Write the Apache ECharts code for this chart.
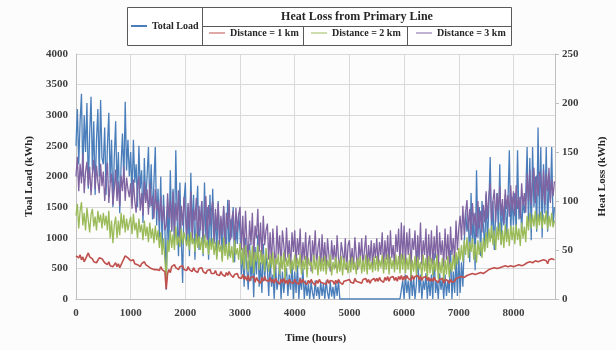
<!DOCTYPE html>
<html>
<head>
<meta charset="utf-8">
<script src="https://cdn.jsdelivr.net/npm/echarts@6/dist/echarts.min.js"></script>
<style>
html, body { margin: 0; padding: 0; background: #fcfcfc; }
#chart { width: 616px; height: 350px; }
</style>
</head>
<body>
<div id="chart"></div>
<script>
// one value every STEP hours (one row = 500 hours)
var STEP = 25;
var xTicks = [0, 1000, 2000, 3000, 4000, 5000, 6000, 7000, 8000];

var totalLoad = [
    2500, 3100, 2200, 2900, 3350, 2000, 3000, 2400, 3200, 1800, 2700, 3300, 2100, 2900, 1700, 2600, 3100, 2000, 3250, 2300,
    2200, 2800, 1700, 2500, 3040, 1900, 2600, 1500, 2300, 2900, 1800, 2400, 1400, 2200, 2700, 1900, 3220, 2100, 2600, 2000,
    2400, 1700, 2600, 1900, 2200, 1500, 2500, 1800, 2100, 1240, 2300, 1600, 2000, 2480, 1500, 2200, 1300, 1900, 2480, 1200,
    1800, 1000, 2000, 850, 1700, 1200, 150, 1500, 900, 2100, 1100, 1800, 960, 2430, 1300, 700, 1900, 1000, 260, 1600,
    1900, 900, 1500, 700, 2060, 1100, 1700, 640, 1400, 1850, 800, 1300, 1600, 700, 1900, 1000, 1500, 640, 1700, 900,
    1800, 900, 1400, 700, 1600, 1000, 1300, 640, 1500, 1100, 800, 1620, 700, 1300, 1000, 1500, 600, 1200, 900, 1400,
    1080, 400, 800, 200, 1000, 500, 150, 900, 300, 700, 30, 850, 400, 1050, 200, 600, 100, 900, 300, 700,
    500, 50, 700, 200, 400, 0, 550, 150, 300, 600, 0, 450, 100, 350, 500, 50, 400, 150, 600, 0,
    450, 100, 550, 0, 350, 150, 500, 0, 300, 50, 250, 0, 280, 100, 0, 300, 50, 200, 0, 280,
    50, 250, 0, 300, 100, 0, 280, 40, 200, 0, 260, 50, 300, 0, 0, 0, 0, 0, 0, 0,
    0, 0, 0, 0, 0, 0, 0, 0, 0, 0, 0, 0, 0, 0, 0, 0, 0, 0, 0, 0,
    0, 0, 0, 0, 0, 0, 0, 0, 0, 0, 0, 0, 0, 0, 0, 0, 0, 0, 0, 300,
    0, 400, 100, 300, 0, 420, 50, 350, 0, 250, 800, 100, 400, 0, 300, 150, 420, 0, 350, 50,
    400, 0, 750, 100, 300, 0, 420, 150, 350, 0, 400, 50, 300, 100, 800, 0, 450, 100, 700, 50,
    700, 100, 600, 200, 900, 1450, 1100, 1300, 600, 1730, 900, 1400, 470, 2100, 1000, 1500, 700, 1600, 1200, 800,
    1700, 900, 1500, 2320, 1000, 1600, 800, 1400, 1730, 1100, 2200, 900, 1500, 1200, 1700, 1000, 1600, 2430, 1100, 1670,
    1200, 1730, 1080, 2430, 1300, 1670, 1100, 1600, 1400, 1700, 2480, 1200, 2300, 960, 2480, 1500, 2000, 1100, 2800, 1300,
    2480, 1000, 2200, 1400, 2480, 1100, 2000, 1600, 2480, 1200, 1500
];

var loss1km = [
    44, 46, 42, 45, 40, 43, 38, 41, 44, 47, 43, 45, 41, 38, 40, 37, 39, 42, 44, 41,
    40, 37, 39, 35, 38, 34, 36, 33, 35, 37, 33, 36, 32, 34, 38, 41, 44, 45, 42, 40,
    39, 37, 40, 36, 38, 35, 37, 33, 36, 34, 38, 35, 37, 33, 34, 31, 33, 30, 32, 30,
    31, 29, 33, 30, 32, 28, 10, 26, 30, 27, 33, 31, 35, 32, 34, 30, 33, 31, 34, 30,
    32, 29, 33, 30, 31, 28, 32, 29, 30, 27, 31, 29, 32, 28, 30, 26, 29, 27, 30, 26,
    28, 26, 29, 25, 27, 24, 28, 25, 26, 23, 27, 24, 28, 25, 26, 22, 25, 23, 26, 22,
    24, 21, 25, 20, 23, 19, 24, 18, 22, 20, 23, 17, 22, 19, 21, 16, 22, 18, 23, 19,
    21, 18, 22, 17, 20, 16, 21, 18, 19, 15, 20, 17, 21, 16, 19, 15, 20, 17, 19, 16,
    20, 17, 19, 15, 21, 16, 20, 17, 18, 15, 19, 16, 20, 17, 18, 14, 19, 16, 20, 17,
    19, 16, 18, 15, 20, 16, 19, 17, 18, 15, 19, 16, 20, 17, 19, 15, 18, 16, 19, 17,
    20, 17, 19, 16, 21, 18, 20, 17, 19, 16, 20, 18, 21, 17, 20, 16, 19, 17, 21, 18,
    21, 18, 22, 19, 21, 17, 22, 19, 23, 18, 22, 20, 23, 19, 22, 18, 23, 20, 24, 19,
    23, 20, 24, 21, 23, 19, 24, 20, 23, 21, 24, 20, 23, 19, 22, 20, 23, 19, 22, 18,
    21, 18, 22, 19, 21, 17, 20, 18, 21, 16, 20, 18, 19, 16, 20, 17, 19, 18, 21, 19,
    22, 20, 23, 21, 22, 20, 24, 22, 25, 23, 26, 24, 25, 23, 26, 24, 27, 25, 26, 24,
    28, 26, 30, 28, 31, 29, 32, 30, 31, 29, 32, 30, 33, 31, 34, 32, 33, 31, 34, 32,
    33, 31, 34, 32, 35, 33, 34, 32, 35, 33, 37, 35, 38, 36, 37, 35, 39, 37, 38, 36,
    39, 37, 40, 38, 39, 36, 40, 38, 41, 39, 40
];

var loss2km = [
    85, 97, 72, 90, 99, 75, 88, 70, 93, 80, 68, 86, 92, 74, 84, 70, 90, 78, 86, 72,
    88, 75, 85, 70, 90, 62, 80, 57, 75, 84, 62, 80, 65, 88, 72, 86, 68, 82, 70, 78,
    84, 66, 87, 70, 78, 62, 82, 68, 76, 60, 80, 64, 74, 58, 78, 62, 72, 57, 75, 60,
    70, 52, 68, 45, 62, 40, 20, 60, 48, 70, 52, 66, 50, 74, 55, 64, 53, 72, 56, 68,
    70, 54, 66, 50, 68, 56, 62, 48, 67, 52, 64, 50, 63, 46, 66, 52, 60, 45, 62, 50,
    62, 45, 58, 40, 60, 48, 55, 38, 63, 44, 56, 40, 58, 42, 54, 37, 60, 45, 52, 40,
    57, 35, 52, 30, 55, 40, 28, 50, 33, 54, 26, 48, 38, 55, 30, 50, 35, 46, 28, 52,
    50, 28, 45, 32, 48, 22, 42, 35, 46, 25, 44, 30, 48, 20, 42, 33, 46, 26, 40, 30,
    45, 28, 42, 32, 46, 25, 40, 30, 44, 22, 42, 34, 38, 26, 45, 30, 40, 24, 44, 28,
    42, 28, 44, 25, 40, 32, 45, 24, 38, 30, 43, 26, 40, 28, 44, 24, 42, 30, 38, 26,
    40, 27, 43, 30, 38, 25, 42, 32, 44, 26, 40, 28, 45, 25, 42, 30, 38, 27, 43, 29,
    44, 28, 40, 32, 45, 26, 42, 30, 46, 25, 43, 31, 40, 27, 45, 30, 44, 26, 46, 30,
    45, 26, 42, 30, 46, 22, 40, 28, 44, 24, 43, 30, 38, 22, 45, 28, 42, 20, 44, 26,
    42, 24, 40, 28, 45, 20, 38, 26, 42, 18, 40, 25, 44, 22, 38, 28, 45, 30, 48, 35,
    52, 40, 55, 38, 60, 45, 63, 42, 58, 48, 62, 40, 56, 37, 60, 45, 58, 42, 62, 48,
    68, 52, 72, 58, 75, 55, 70, 50, 74, 60, 78, 55, 70, 52, 76, 58, 72, 54, 75, 60,
    74, 56, 76, 60, 72, 54, 78, 62, 74, 58, 85, 70, 88, 72, 86, 74, 90, 71, 87, 75,
    89, 72, 86, 76, 90, 71, 85, 74, 88, 73, 80
];

var loss3km = [
    125, 145, 110, 138, 118, 149, 108, 130, 140, 115, 135, 106, 128, 142, 112, 136, 120, 108, 138, 115,
    130, 100, 122, 139, 98, 118, 128, 96, 112, 132, 100, 120, 95, 126, 110, 135, 100, 124, 112, 104,
    118, 92, 122, 100, 88, 115, 125, 90, 108, 85, 120, 98, 112, 86, 118, 95, 105, 82, 112, 90,
    100, 80, 105, 78, 95, 70, 75, 108, 82, 100, 70, 110, 65, 98, 80, 111, 62, 95, 75, 104,
    105, 65, 98, 72, 110, 60, 92, 80, 103, 58, 95, 70, 100, 62, 88, 105, 60, 96, 75, 90,
    100, 58, 92, 70, 98, 55, 85, 65, 95, 53, 88, 72, 101, 60, 82, 90, 55, 93, 68, 86,
    94, 50, 85, 45, 90, 60, 42, 80, 55, 88, 40, 75, 62, 92, 48, 78, 42, 85, 55, 70,
    77, 40, 68, 35, 72, 50, 30, 75, 45, 65, 32, 70, 55, 38, 73, 42, 60, 30, 68, 48,
    70, 35, 62, 45, 72, 30, 58, 40, 68, 33, 55, 65, 28, 60, 42, 70, 35, 52, 62, 30,
    66, 38, 58, 30, 62, 45, 28, 60, 40, 55, 32, 65, 42, 30, 58, 48, 35, 62, 30, 55,
    60, 35, 52, 30, 63, 45, 30, 58, 40, 62, 33, 50, 65, 30, 55, 38, 60, 32, 57, 42,
    62, 35, 58, 45, 68, 30, 60, 40, 65, 35, 70, 42, 55, 33, 66, 48, 72, 35, 78, 40,
    75, 35, 68, 45, 72, 30, 62, 50, 70, 32, 65, 40, 78, 35, 60, 45, 72, 30, 66, 38,
    70, 35, 64, 42, 75, 30, 68, 45, 60, 33, 72, 40, 66, 35, 74, 45, 62, 38, 80, 50,
    72, 85, 60, 95, 65, 88, 101, 70, 92, 65, 98, 75, 88, 63, 100, 72, 90, 68, 96, 78,
    110, 82, 105, 118, 80, 100, 112, 78, 108, 90, 115, 85, 102, 77, 112, 92, 106, 84, 116, 90,
    110, 85, 116, 92, 104, 82, 118, 95, 108, 88, 128, 100, 132, 96, 120, 134, 98, 126, 105, 130,
    125, 100, 132, 96, 128, 110, 134, 98, 122, 105, 120
];

function pairs(values) {
    var out = [];
    for (var i = 0; i < values.length; i++) {
        out.push([i * STEP, values[i]]);
    }
    return out;
}

var FONT = 'Liberation Serif';
var textGray = '#404040';
var gridGray = '#d9d9d9';

var legendText = { fontFamily: FONT, fontWeight: 'bold', fontSize: 10, color: '#262626' };

function lineSeries(name, values, color, axis, width) {
    return {
        name: name,
        type: 'line',
        yAxisIndex: axis,
        data: pairs(values),
        showSymbol: false,
        symbol: 'none',
        lineStyle: { width: width, color: color },
        itemStyle: { color: color },
        animation: false
    };
}

var chart = echarts.init(document.getElementById('chart'));
chart.setOption({
    backgroundColor: '#fcfcfc',
    animation: false,
    grid: { left: 76, right: 60, top: 54, bottom: 51, containLabel: false },
    legend: [
        { data: ['Total Load'], left: 131, top: 21, icon: 'rect', itemWidth: 16, itemHeight: 2, itemGap: 4, textStyle: legendText, padding: 0 },
        { data: ['Distance = 1 km'], left: 209, top: 28, icon: 'rect', itemWidth: 16, itemHeight: 1, textStyle: legendText, padding: 0 },
        { data: ['Distance = 2 km'], left: 311, top: 28, icon: 'rect', itemWidth: 16, itemHeight: 1, textStyle: legendText, padding: 0 },
        { data: ['Distance = 3 km'], left: 416, top: 28, icon: 'rect', itemWidth: 16, itemHeight: 1, textStyle: legendText, padding: 0 }
    ],
    // the table frame round the legend
    graphic: [
        { type: 'rect', shape: { x: 127.5, y: 7.5, width: 384, height: 38 }, style: { fill: '#ffffff', stroke: '#595959', lineWidth: 1 }, z: -1 },
        { type: 'line', shape: { x1: 202.5, y1: 7.5, x2: 202.5, y2: 45.5 }, style: { stroke: '#595959', lineWidth: 1 } },
        { type: 'line', shape: { x1: 202.5, y1: 26.5, x2: 511.5, y2: 26.5 }, style: { stroke: '#595959', lineWidth: 1 } },
        { type: 'line', shape: { x1: 303.5, y1: 26.5, x2: 303.5, y2: 45.5 }, style: { stroke: '#595959', lineWidth: 1 } },
        { type: 'line', shape: { x1: 407.5, y1: 26.5, x2: 407.5, y2: 45.5 }, style: { stroke: '#595959', lineWidth: 1 } },
        { type: 'text', x: 357, y: 17, style: { text: 'Heat Loss from Primary Line', fontFamily: FONT, fontWeight: 'bold', fontSize: 12, fill: '#262626', align: 'center', verticalAlign: 'middle' } }
    ],
    xAxis: {
        type: 'value',
        min: 0,
        max: 8760,
        interval: 1000,
        name: 'Time (hours)',
        nameLocation: 'middle',
        nameGap: 34,
        nameTextStyle: { fontFamily: FONT, fontWeight: 'bold', fontSize: 11, color: '#262626' },
        axisLine: { lineStyle: { color: '#bfbfbf' } },
        axisTick: { show: false },
        axisLabel: {
            fontFamily: FONT, fontWeight: 'bold', fontSize: 11, color: textGray, margin: 9,
            showMaxLabel: false,
            formatter: function (v) { return xTicks.indexOf(v) >= 0 ? String(v) : ''; }
        },
        splitLine: { show: true, lineStyle: { color: gridGray } }
    },
    yAxis: [
        {
            type: 'value',
            min: 0,
            max: 4000,
            interval: 500,
            name: 'Toal Load (kWh)',
            nameLocation: 'middle',
            nameGap: 38,
            nameRotate: 90,
            nameTextStyle: { fontFamily: FONT, fontWeight: 'bold', fontSize: 11, color: '#262626' },
            axisLine: { show: true, lineStyle: { color: '#bfbfbf' } },
            axisTick: { show: false },
            axisLabel: { fontFamily: FONT, fontWeight: 'bold', fontSize: 11, color: textGray, margin: 8,
                formatter: function (v) { return String(v); } },
            splitLine: { show: true, lineStyle: { color: gridGray } }
        },
        {
            type: 'value',
            position: 'right',
            min: 0,
            max: 250,
            interval: 50,
            name: 'Heat Loss (kWh)',
            nameLocation: 'middle',
            nameGap: 42,
            nameRotate: 90,
            nameTextStyle: { fontFamily: FONT, fontWeight: 'bold', fontSize: 11, color: '#262626' },
            axisLine: { show: true, lineStyle: { color: '#bfbfbf' } },
            axisTick: { show: true, length: 4, lineStyle: { color: '#bfbfbf' } },
            axisLabel: { fontFamily: FONT, fontWeight: 'bold', fontSize: 11, color: textGray, margin: 7,
                formatter: function (v) { return String(v); } },
            splitLine: { show: false }
        }
    ],
    series: [
        lineSeries('Total Load', totalLoad, '#4a7ebb', 0, 1.3),
        lineSeries('Distance = 3 km', loss3km, '#8064a2', 1, 1.3),
        lineSeries('Distance = 2 km', loss2km, '#9bbb59', 1, 1.3),
        lineSeries('Distance = 1 km', loss1km, '#c0504d', 1, 1.6)
    ]
});
</script>
</body>
</html>
